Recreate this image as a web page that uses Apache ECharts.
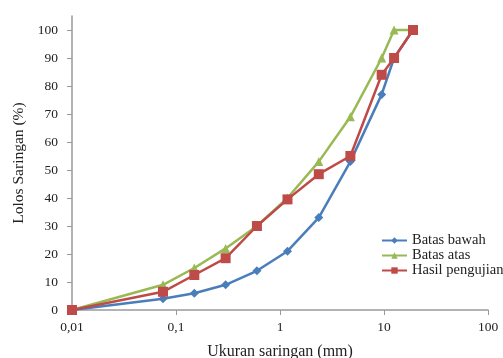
<!DOCTYPE html>
<html>
<head>
<meta charset="utf-8">
<script src="https://cdn.jsdelivr.net/npm/echarts@6/dist/echarts.min.js"></script>
<style>
  html, body { margin: 0; padding: 0; background: #fff; }
  #chart { width: 503px; height: 358px; }
</style>
</head>
<body>
<div id="chart"></div>
<script>
// ukuran saringan (mm)
var sieveSizes = [0.01, 0.075, 0.15, 0.3, 0.6, 1.18, 2.36, 4.75, 9.5, 12.5, 19];
var batasBawah = [0, 4, 6, 9, 14, 21, 33, 53, 77, 90, 100];
var batasAtas = [0, 9, 15, 22, 30, 40, 53, 69, 90, 100, 100];
var hasilPengujian = [0, 6.5, 12.5, 18.5, 30, 39.5, 48.5, 55, 84, 90, 100];
var yTicks = [0, 10, 20, 30, 40, 50, 60, 70, 80, 90, 100];

function pairs(vals) {
    return sieveSizes.map(function (s, i) { return [s, vals[i]]; });
}

var font = 'Liberation Serif, Times New Roman, serif';

var option = {
    animation: false,
    textStyle: { fontFamily: font },
    grid: { left: 72, right: 15, top: 16, bottom: 48, outerBoundsMode: 'none', containLabel: false },
    legend: {
        orient: 'vertical',
        left: 381,
        top: 233,
        padding: 0,
        itemWidth: 25,
        itemHeight: 8,
        itemGap: 0,
        textStyle: { fontFamily: font, fontSize: 14.5, color: '#222' },
        data: ['Batas bawah', 'Batas atas', 'Hasil pengujian']
    },
    xAxis: {
        type: 'log',
        logBase: 10,
        min: 0.01,
        max: 100,
        name: 'Ukuran saringan (mm)',
        nameLocation: 'middle',
        nameGap: 34,
        nameTextStyle: { fontFamily: font, fontSize: 16, color: '#222' },
        axisLine: { lineStyle: { color: '#9a9a9a', width: 1.5 } },
        axisTick: { show: true, inside: false, length: 5, lineStyle: { color: '#9a9a9a' } },
        minorTick: { show: false },
        splitLine: { show: false },
        axisLabel: {
            fontFamily: font, fontSize: 13.5, color: '#222', margin: 10,
            formatter: function (v) { return String(v).replace('.', ','); }
        }
    },
    yAxis: {
        type: 'value',
        min: 0,
        max: 105,
        name: 'Lolos Saringan (%)',
        nameLocation: 'middle',
        nameGap: 43,
        nameTextStyle: { fontFamily: font, fontSize: 15.5, color: '#222' },
        axisLine: { show: true, lineStyle: { color: '#9a9a9a', width: 1.5 } },
        axisTick: { show: true, length: 5, customValues: yTicks, lineStyle: { color: '#9a9a9a' } },
        splitLine: { show: false },
        axisLabel: { fontFamily: font, fontSize: 13.5, color: '#222', margin: 14, customValues: yTicks }
    },
    series: [
        {
            name: 'Batas bawah',
            type: 'line',
            data: pairs(batasBawah),
            symbol: 'diamond',
            symbolSize: 9,
            itemStyle: { color: '#4a7ebb' },
            lineStyle: { color: '#4a7ebb', width: 2.5 }
        },
        {
            name: 'Batas atas',
            type: 'line',
            data: pairs(batasAtas),
            symbol: 'triangle',
            symbolSize: 9,
            itemStyle: { color: '#98b954' },
            lineStyle: { color: '#98b954', width: 2.5 }
        },
        {
            name: 'Hasil pengujian',
            type: 'line',
            data: pairs(hasilPengujian),
            symbol: 'rect',
            symbolSize: 10,
            itemStyle: { color: '#be4b48' },
            lineStyle: { color: '#be4b48', width: 2.5 }
        }
    ]
};

var chart = document.getElementById('chart');
var chartContainer = echarts.init(chart);
chartContainer.setOption(option);
window.onresize = function () {
    chartContainer.resize();
};
</script>
</body>
</html>
